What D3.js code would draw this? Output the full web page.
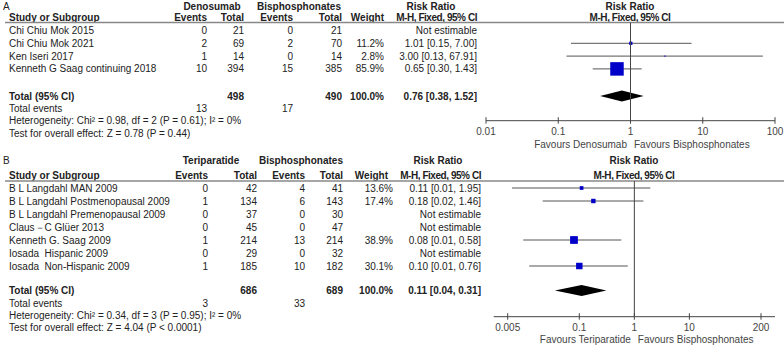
<!DOCTYPE html>
<html><head><meta charset="utf-8">
<script src="https://cdn.jsdelivr.net/npm/d3@7"></script>
<style>
html,body{margin:0;padding:0;background:#fff;}
svg text{font-family:"Liberation Sans",Arial,sans-serif;font-size:10px;fill:#222;white-space:pre;}
svg text.b{font-weight:bold;}
svg text.n{letter-spacing:-0.45px;}
svg text.g{fill:#444;}
</style></head>
<body><svg id="c" width="784" height="345"></svg>
<script>
// ---------- Panel A data ----------
const studiesA = ["Chi Chiu Mok 2015","Chi Chiu Mok 2021","Ken Iseri 2017","Kenneth G Saag continuing 2018"];
const expEventsA = [0,2,1,10];
const expTotalA  = [21,69,14,394];
const ctlEventsA = [0,2,0,15];
const ctlTotalA  = [21,70,14,385];
const weightA    = [null,11.2,2.8,85.9];
const rrA        = [null,1.01,3.00,0.65];
const lowA       = [null,0.15,0.13,0.30];
const highA      = [null,7.00,67.91,1.43];
const pooledA    = {rr:0.76, low:0.38, high:1.52, expTotal:498, ctlTotal:490, expEv:13, ctlEv:17};
const hetA  = "Heterogeneity: Chi² = 0.98, df = 2 (P = 0.61); I² = 0%";
const testA = "Test for overall effect: Z = 0.78 (P = 0.44)";
const ticksA = [0.01,0.1,1,10,100];
const tickLabelsA = ["0.01","0.1","1","10","100"];

// ---------- Panel B data ----------
const studiesB = ["B L Langdahl MAN 2009","B L Langdahl Postmenopausal 2009","B L Langdahl Premenopausal 2009","Claus－C Glüer 2013","Kenneth G. Saag 2009","Iosada  Hispanic 2009","Iosada  Non-Hispanic 2009"];
const expEventsB = [0,1,0,0,1,0,1];
const expTotalB  = [42,134,37,45,214,29,185];
const ctlEventsB = [4,6,0,0,13,0,10];
const ctlTotalB  = [41,143,30,47,214,32,182];
const weightB    = [13.6,17.4,null,null,38.9,null,30.1];
const rrB        = [0.11,0.18,null,null,0.08,null,0.10];
const lowB       = [0.006,0.0216,null,null,0.0096,null,0.0123];
const highB      = [1.95,1.46,null,null,0.58,null,0.76];
const pooledB    = {rr:0.11, low:0.036, high:0.31, expTotal:686, ctlTotal:689, expEv:3, ctlEv:33};
const hetB  = "Heterogeneity: Chi² = 0.34, df = 3 (P = 0.95); I² = 0%";
const testB = "Test for overall effect: Z = 4.04 (P < 0.0001)";
const ticksB = [0.005,0.1,1,10,200];
const tickLabelsB = ["0.005","0.1","1","10","200"];

const svg = d3.select("#c");
const sq = d3.scalePow().exponent(0.7).domain([0,100]).range([0,15]);
const f2 = d3.format(".2f");

function panel(o){
  const g = svg.append("g");
  const L = o.layout;
  const t = (x,y,s,anchor,cls)=>g.append("text").attr("x",x).attr("y",y+3.5).attr("text-anchor",anchor||"start").attr("class",cls||"").text(s);
  // header
  t(3,L.h1,o.letter,"start");
  t(L.g1,L.h1,o.g1,"middle","b");
  t(L.g2,L.h1,o.g2,"middle","b");
  t(L.rrh,L.h1,"Risk Ratio","middle","b");
  t(L.plotC,L.h1,"Risk Ratio","middle","b");
  t(9,L.h2,"Study or Subgroup","start","b");
  t(L.he1,L.h2,"Events","end","b");
  t(L.ht1,L.h2,"Total","end","b");
  t(L.he2,L.h2,"Events","end","b");
  t(L.ht2,L.h2,"Total","end","b");
  t(L.hw,L.h2,"Weight","end","b");
  t(L.ci,L.h2,"M-H, Fixed, 95% CI","end","b n");
  t(L.plotC,L.h2,"M-H, Fixed, 95% CI","middle","b n");
  g.append("line").attr("x1",5).attr("x2",784).attr("y1",L.line).attr("y2",L.line).attr("stroke","#888").attr("stroke-width",1.5);

  const x = d3.scaleLog().domain([o.ticks[0],o.ticks[o.ticks.length-1]]).range(L.xr);
  const y = d3.scalePoint().domain(d3.range(o.studies.length)).range([L.r0,L.r0+L.rs*(o.studies.length-1)]);

  o.studies.forEach((s,i)=>{
    const yy = y(i);
    t(9,yy,s);
    t(L.e1,yy,String(o.expEv[i]),"end");
    t(L.t1,yy,String(o.expTot[i]),"end");
    t(L.e2,yy,String(o.ctlEv[i]),"end");
    t(L.t2,yy,String(o.ctlTot[i]),"end");
    if(o.w[i]!=null){
      t(L.w,yy,o.w[i].toFixed(1)+"%","end");
      t(L.ci,yy,f2(o.rr[i])+" ["+f2(o.low[i])+", "+f2(o.high[i])+"]","end");
      g.append("line").attr("x1",x(o.low[i])).attr("x2",x(o.high[i])).attr("y1",yy).attr("y2",yy).attr("stroke","#555").attr("stroke-width",1);
      const s2 = sq(o.w[i]);
      g.append("rect").attr("x",x(o.rr[i])-s2/2).attr("y",yy-s2/2).attr("width",s2).attr("height",s2).attr("fill","#0000c8");
    } else {
      t(L.ci,yy,"Not estimable","end");
    }
  });
  // totals
  const p=o.pooled;
  t(9,L.tot,"Total (95% CI)","start","b");
  t(L.t1,L.tot,String(p.expTotal),"end","b");
  t(L.t2,L.tot,String(p.ctlTotal),"end","b");
  t(L.w,L.tot,"100.0%","end","b");
  t(L.ci,L.tot,f2(p.rr)+" ["+f2(p.low)+", "+f2(p.high)+"]","end","b");
  t(9,L.ev,"Total events");
  t(L.e1,L.ev,String(p.expEv),"end");
  t(L.e2,L.ev,String(p.ctlEv),"end");
  t(9,L.het,o.het);
  t(9,L.test,o.test);
  // diamond
  g.append("path").attr("d",`M${x(p.low)},${L.tot}L${x(p.rr)},${L.tot-5.5}L${x(p.high)},${L.tot}L${x(p.rr)},${L.tot+5.5}Z`).attr("fill","#000");
  // vertical line at 1
  g.append("line").attr("x1",x(1)).attr("x2",x(1)).attr("y1",L.line).attr("y2",L.axis).attr("stroke","#444");
  // axis
  g.append("line").attr("x1",L.xr[0]-L.ext).attr("x2",L.xr[1]+L.ext).attr("y1",L.axis).attr("y2",L.axis).attr("stroke","#444");
  o.ticks.forEach((v,i)=>{
    g.append("line").attr("x1",x(v)).attr("x2",x(v)).attr("y1",L.axis-3.5).attr("y2",L.axis+3).attr("stroke","#444");
    t(x(v),L.tl,o.tickLabels[i],"middle","g");
  });
  t(x(1)-3.5,L.fav,o.fav1,"end","g");
  t(x(1)+3.5,L.fav,o.fav2,"start","g");
}

panel({letter:"A",g1:"Denosumab",g2:"Bisphosphonates",studies:studiesA,expEv:expEventsA,expTot:expTotalA,ctlEv:ctlEventsA,ctlTot:ctlTotalA,
  w:weightA,rr:rrA,low:lowA,high:highA,pooled:pooledA,het:hetA,test:testA,ticks:ticksA,tickLabels:tickLabelsA,
  fav1:"Favours Denosumab",fav2:"Favours Bisphosphonates",
  layout:{h1:6,h2:17,line:22.5,r0:30.5,rs:12.8,tot:96,ev:108.5,het:120.5,test:133,axis:120.7,tl:131.5,fav:144,
    xr:[486,775],ext:0,plotC:630,g1:212,g2:299,rrh:431,
    he1:207,ht1:244,he2:293,ht2:342,hw:384,e1:207,t1:244,e2:293,t2:342,w:384,ci:477}});

panel({letter:"B",g1:"Teriparatide",g2:"Bisphosphonates",studies:studiesB,expEv:expEventsB,expTot:expTotalB,ctlEv:ctlEventsB,ctlTot:ctlTotalB,
  w:weightB,rr:rrB,low:lowB,high:highB,pooled:pooledB,het:hetB,test:testB,ticks:ticksB,tickLabels:tickLabelsB,
  fav1:"Favours Teriparatide",fav2:"Favours Bisphosphonates",
  layout:{h1:160.5,h2:175,line:181,r0:188,rs:13,tot:290.5,ev:303,het:315.5,test:327.5,axis:316.7,tl:327.5,fav:339,
    xr:[507.7,761],ext:14,plotC:634,g1:211,g2:301,rrh:438,
    he1:208,ht1:257,he2:305,ht2:343,hw:388,e1:208,t1:257,e2:305,t2:343,w:393,ci:481}});
</script></body></html>
